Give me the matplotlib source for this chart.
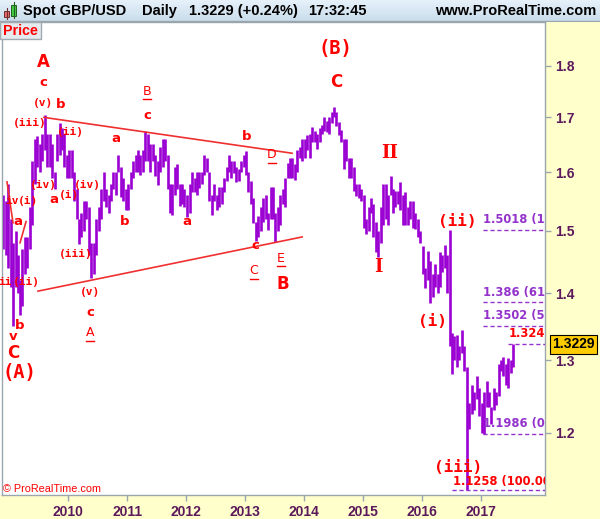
import numpy as np
import pandas as pd
import matplotlib
matplotlib.use("Agg")
import matplotlib.pyplot as plt
from matplotlib.patches import Rectangle
from matplotlib.ticker import NullLocator
from matplotlib.transforms import offset_copy

# semi-monthly high / low of spot GBP/USD, first bar = 15 Nov 2008
high_2008 = [1.56, 1.55, 1.58]
low_2008 = [1.47, 1.46, 1.44]
high_2009 = [1.52, 1.48, 1.50, 1.46, 1.42, 1.47, 1.49, 1.49, 1.54, 1.62, 1.66, 1.665,
             1.65, 1.67, 1.704, 1.67, 1.67, 1.65, 1.60, 1.67, 1.69, 1.68, 1.67, 1.63]
low_2009 = [1.41, 1.35, 1.41, 1.40, 1.366, 1.38, 1.43, 1.44, 1.47, 1.51, 1.58, 1.61,
            1.60, 1.62, 1.64, 1.61, 1.61, 1.59, 1.57, 1.62, 1.63, 1.64, 1.61, 1.59]
high_2010 = [1.64, 1.64, 1.60, 1.57, 1.52, 1.53, 1.55, 1.55, 1.54, 1.48, 1.48, 1.52,
             1.54, 1.57, 1.60, 1.57, 1.56, 1.58, 1.60, 1.60, 1.63, 1.61, 1.59, 1.57]
low_2010 = [1.59, 1.59, 1.55, 1.52, 1.478, 1.49, 1.50, 1.52, 1.46, 1.423, 1.43, 1.46,
            1.50, 1.52, 1.55, 1.54, 1.53, 1.55, 1.57, 1.56, 1.60, 1.557, 1.55, 1.535]
high_2011 = [1.58, 1.60, 1.62, 1.63, 1.64, 1.63, 1.64, 1.675, 1.67, 1.65, 1.65, 1.63,
             1.62, 1.645, 1.66, 1.66, 1.63, 1.58, 1.58, 1.61, 1.615, 1.58, 1.58, 1.57]
low_2011 = [1.535, 1.57, 1.59, 1.60, 1.60, 1.595, 1.60, 1.62, 1.62, 1.60, 1.62, 1.594,
            1.578, 1.60, 1.61, 1.62, 1.57, 1.53, 1.527, 1.56, 1.57, 1.542, 1.545, 1.54]
high_2012 = [1.56, 1.58, 1.60, 1.59, 1.60, 1.60, 1.60, 1.63, 1.625, 1.60, 1.56, 1.58,
             1.56, 1.575, 1.575, 1.59, 1.61, 1.631, 1.62, 1.62, 1.61, 1.605, 1.62, 1.631]
low_2012 = [1.523, 1.53, 1.565, 1.565, 1.56, 1.573, 1.58, 1.595, 1.60, 1.55, 1.527, 1.55,
            1.535, 1.54, 1.545, 1.565, 1.585, 1.60, 1.59, 1.598, 1.583, 1.585, 1.60, 1.61]
high_2013 = [1.638, 1.60, 1.585, 1.555, 1.515, 1.525, 1.54, 1.555, 1.56, 1.53, 1.575, 1.575,
             1.53, 1.54, 1.56, 1.57, 1.59, 1.616, 1.626, 1.625, 1.615, 1.639, 1.646, 1.66]
low_2013 = [1.595, 1.565, 1.545, 1.512, 1.483, 1.49, 1.50, 1.515, 1.52, 1.501, 1.52, 1.52,
            1.481, 1.50, 1.51, 1.545, 1.54, 1.59, 1.59, 1.59, 1.586, 1.60, 1.625, 1.62]
high_2014 = [1.66, 1.667, 1.67, 1.682, 1.675, 1.67, 1.68, 1.686, 1.70, 1.694, 1.70, 1.71,
             1.719, 1.71, 1.692, 1.676, 1.66, 1.66, 1.625, 1.625, 1.61, 1.58, 1.58, 1.57]
low_2014 = [1.625, 1.64, 1.625, 1.655, 1.655, 1.641, 1.655, 1.67, 1.675, 1.673, 1.669, 1.69,
            1.70, 1.684, 1.668, 1.655, 1.605, 1.62, 1.59, 1.59, 1.567, 1.559, 1.555, 1.55]
high_2015 = [1.56, 1.52, 1.54, 1.555, 1.545, 1.515, 1.50, 1.54, 1.58, 1.58, 1.56, 1.593,
             1.57, 1.567, 1.567, 1.582, 1.56, 1.565, 1.54, 1.55, 1.55, 1.53, 1.52, 1.50]
low_2015 = [1.505, 1.495, 1.50, 1.53, 1.49, 1.465, 1.457, 1.48, 1.51, 1.52, 1.51, 1.56,
            1.53, 1.54, 1.545, 1.535, 1.51, 1.51, 1.51, 1.52, 1.505, 1.503, 1.49, 1.48]
high_2016 = [1.475, 1.44, 1.467, 1.45, 1.43, 1.445, 1.43, 1.465, 1.46, 1.477, 1.46, 1.5018,
             1.34, 1.335, 1.337, 1.32, 1.344, 1.32, 1.29, 1.24, 1.265, 1.255, 1.278, 1.26]
low_2016 = [1.43, 1.408, 1.42, 1.384, 1.394, 1.41, 1.40, 1.41, 1.433, 1.44, 1.40, 1.32,
            1.28, 1.30, 1.29, 1.30, 1.31, 1.285, 1.1258, 1.205, 1.225, 1.23, 1.245, 1.222]
high_2017 = [1.24, 1.255, 1.27, 1.255, 1.235, 1.26, 1.255, 1.295, 1.30, 1.305, 1.295, 1.303,
             1.30, 1.324]
low_2017 = [1.20, 1.1986, 1.235, 1.235, 1.211, 1.23, 1.237, 1.25, 1.285, 1.278, 1.265, 1.26,
            1.281, 1.29]

high = (high_2008 + high_2009 + high_2010 + high_2011 + high_2012 + high_2013
        + high_2014 + high_2015 + high_2016 + high_2017)
low = (low_2008 + low_2009 + low_2010 + low_2011 + low_2012 + low_2013
       + low_2014 + low_2015 + low_2016 + low_2017)
dates = pd.date_range("2008-11-15", periods=len(high), freq="SMS")
t = dates.year + (dates.dayofyear + 6) / 365.25

last_price = 1.3229
years = [2010, 2011, 2012, 2013, 2014, 2015, 2016, 2017]
price_ticks = [1.2, 1.3, 1.4, 1.5, 1.6, 1.7, 1.8]

# fibonacci levels (purple) and the two red ones
fib_levels = [1.5018, 1.386, 1.3502, 1.1986]
fib_labels = ["1.5018 (100.0%)", "1.386 (61.8%)", "1.3502 (50.0%)", "1.1986 (0.0%)"]

# wave labels: text, decimal year, price, style
wave_labels = [
    ("A", 2009.570, 1.807, "big"), ("c", 2009.570, 1.766, "abc"),
    ("(v)", 2009.570, 1.727, "wave"), ("b", 2009.876, 1.725, "abc"),
    ("(iii)", 2009.349, 1.690, "wave"), ("(ii)", 2010.028, 1.673, "wave"),
    ("a", 2010.810, 1.660, "abc"), ("B", 2011.336, 1.750, "under"),
    ("c", 2011.336, 1.703, "abc"), ("b", 2013.034, 1.664, "abc"),
    ("D", 2013.458, 1.631, "under"), ("(B)", 2014.528, 1.834, "huge"),
    ("C", 2014.545, 1.768, "big"), ("II", 2015.462, 1.634, "roman"),
    ("(ii)", 2016.599, 1.516, "large"), ("(i)", 2016.174, 1.357, "large"),
    ("(iii)", 2016.616, 1.154, "large"), ("I", 2015.258, 1.441, "roman"),
    ("B", 2013.645, 1.414, "big"), ("E", 2013.611, 1.455, "under"),
    ("C", 2013.152, 1.435, "under"), ("c", 2013.169, 1.475, "abc"),
    ("a", 2012.015, 1.515, "abc"), ("b", 2010.962, 1.515, "abc"),
    ("(iv)", 2010.317, 1.578, "wave"), ("(iv)", 2009.570, 1.578, "wave"),
    ("a", 2009.757, 1.552, "abc"), ("(i)", 2010.012, 1.560, "wave"),
    ("iv", 2009.044, 1.550, "wave"), ("(i)", 2009.315, 1.550, "wave"),
    ("a", 2009.146, 1.515, "abc"), ("(iii)", 2010.130, 1.462, "wave"),
    ("ii", 2008.925, 1.417, "wave"), ("(ii)", 2009.282, 1.417, "wave"),
    ("b", 2009.180, 1.350, "abc"), ("v", 2009.061, 1.334, "abc"),
    ("C", 2009.061, 1.310, "big"), ("(A)", 2009.163, 1.282, "huge"),
    ("(v)", 2010.368, 1.402, "wave"), ("c", 2010.368, 1.370, "abc"),
    ("A", 2010.368, 1.340, "under"),
]

# trend lines: (x0, x1), (p0, p1)
trend_lines = [
    ((2009.587, 2013.798), (1.700, 1.634)),
    ((2009.485, 2013.970), (1.403, 1.4896)),
    ((2008.959, 2009.061), (1.583, 1.513)),
    ((2009.180, 2009.282), (1.480, 1.515)),
]

RED = "#FF0000"
PURPLE = "#9B00D3"
TICK = "#5C1A5C"
FIB = "#9333CC"
YELLOW = "#FFFFCC"
GRAY = "#9AA6AE"

W, H = 600, 519
fig = plt.figure(figsize=(6, 5.19), dpi=100, facecolor="white")


def fx(x):
    return x / W


def fy(y):
    return 1 - y / H


# yellow axis bands
fig.add_artist(Rectangle((fx(545), 0), 1 - fx(545), fy(22), transform=fig.transFigure,
                         facecolor=YELLOW, edgecolor="none", zorder=0))
fig.add_artist(Rectangle((0, 0), fx(545), fy(495), transform=fig.transFigure,
                         facecolor=YELLOW, edgecolor="none", zorder=0))

# header band
hax = fig.add_axes([0, fy(22), 1, 22 / H])
grad = np.linspace(0, 1, 50).reshape(-1, 1)
hax.imshow(grad, aspect="auto", cmap=matplotlib.colors.LinearSegmentedColormap.from_list(
    "hdr", ["#E6F1FA", "#C9DCEB"]), extent=[0, W, 22, 0])
hax.set_xlim(0, W)
hax.set_ylim(22, 0)
hax.axis("off")
hax.plot([0, W], [21.5, 21.5], color=GRAY, lw=1)
# candle icon
hax.plot([6.5, 6.5], [8, 19], color="#703030", lw=0.8)
hax.add_patch(Rectangle((4, 11), 5, 6, facecolor="#E86A6A", edgecolor="#703030", lw=0.7))
hax.plot([13.5, 13.5], [2, 18], color="#206020", lw=0.8)
hax.add_patch(Rectangle((11, 5), 5, 11, facecolor="#44CC44", edgecolor="#206020", lw=0.7))
hdr_font = dict(family="Liberation Sans", weight="bold", fontsize=10.5, color="black",
                va="center")
hax.text(23, 11.5, "Spot GBP/USD", ha="left", **hdr_font)
hax.text(142, 11.5, "Daily", ha="left", **hdr_font)
hax.text(189, 11.5, "1.3229 (+0.24%)", ha="left", **hdr_font)
hax.text(308, 11.5, "17:32:45", ha="left", **hdr_font)
hax.text(596, 11.5, "www.ProRealTime.com", ha="right", **hdr_font)

# main price axes
ax = fig.add_axes([fx(2), fy(495), (545 - 2) / W, (495 - 22) / H])
ax.set_facecolor("white")
ax.set_yscale("log")
ax.set_xlim(2008.874, 2018.093)
ax.set_ylim(1.120, 1.889)

ax.vlines(t, low, high, color=PURPLE, linewidth=1.9, zorder=2)

for (x0, x1), (p0, p1) in trend_lines:
    ax.plot([x0, x1], [p0, p1], color="#F03030", lw=1.2, zorder=3)

styles = {
    "abc": dict(family="DejaVu Sans", weight="bold", fontsize=9.5),
    "wave": dict(family="DejaVu Sans Mono", weight="bold", fontsize=8),
    "large": dict(family="DejaVu Sans Mono", weight="bold", fontsize=11.5),
    "huge": dict(family="DejaVu Sans Mono", weight="bold", fontsize=13.5),
    "big": dict(family="DejaVu Sans", weight="bold", fontsize=12),
    "roman": dict(family="DejaVu Serif", weight="bold", fontsize=13),
    "under": dict(family="DejaVu Sans", fontsize=9),
}
under_tr = offset_copy(ax.transData, fig=fig, x=0, y=-8, units="dots")
for txt, yr, p, st in wave_labels:
    ax.text(yr, p, txt, color=RED, ha="center", va="center", zorder=4, **styles[st])
    if st == "under":
        ax.plot([yr - 0.075, yr + 0.075], [p, p], color=RED, lw=1, transform=under_tr,
                zorder=4)

# fibonacci levels
dash = (0, (3, 2))
for lvl, lab in zip(fib_levels, fib_labels):
    ax.plot([2017.04, 2018.093], [lvl, lvl], color=FIB, lw=1, ls=dash, zorder=3)
    ax.text(2017.045, lvl * 1.004, lab, color=FIB, fontsize=8.3, weight="bold",
            family="DejaVu Sans", ha="left", va="bottom", clip_on=True, zorder=4)
ax.plot([2016.514, 2018.093], [1.1258, 1.1258], color=FIB, lw=1, ls=dash, zorder=3)
ax.text(2016.53, 1.1258 * 1.003, "1.1258 (100.00%)", color=RED, fontsize=8.3, weight="bold",
        family="DejaVu Sans", ha="left", va="bottom", clip_on=True, zorder=4)
ax.plot([2017.465, 2018.093], [1.324, 1.324], color=FIB, lw=1, ls=dash, zorder=3)
ax.text(2017.48, 1.324 * 1.004, "1.324", color=RED, fontsize=8.3, weight="bold",
        family="DejaVu Sans", ha="left", va="bottom", clip_on=True, zorder=4)

# axes, ticks
for sp in ax.spines.values():
    sp.set_color(GRAY)
    sp.set_linewidth(1)
ax.yaxis.tick_right()
ax.set_yticks(price_ticks)
ax.set_yticklabels([f"{v:.1f}" for v in price_ticks])
ax.yaxis.set_minor_locator(NullLocator())
ax.set_xticks(years)
ax.set_xticklabels([str(y) for y in years])
ax.tick_params(axis="both", direction="out", length=4, width=1, color=GRAY,
               labelcolor=TICK, pad=3)
for lab in ax.get_xticklabels() + ax.get_yticklabels():
    lab.set_fontfamily("Liberation Sans")
    lab.set_fontweight("bold")
    lab.set_fontsize(10)

# current price box
ax.text(1.013, last_price, "1.3229", transform=ax.get_yaxis_transform(), ha="left",
        va="center", fontsize=10, weight="bold", family="Liberation Sans", color="black",
        bbox=dict(boxstyle="square,pad=0.18", fc="#FFCC00", ec="black", lw=0.8),
        clip_on=False, zorder=5)

# "Price" tag and copyright
fig.add_artist(Rectangle((0, fy(39)), fx(41), 17 / H, transform=fig.transFigure,
                         facecolor="#E4EAEE", edgecolor="#A0AAB0", lw=1, zorder=6))
fig.text(fx(20.5), fy(31), "Price", color=RED, ha="center", va="center", fontsize=10.3,
         weight="bold", family="Liberation Sans", zorder=7)
fig.text(fx(3), fy(489), "\u00a9 ProRealTime.com", color=RED, ha="left", va="center",
         fontsize=7.8, family="Liberation Sans", zorder=7)

fig.savefig("out.png", dpi=100, facecolor="white")
